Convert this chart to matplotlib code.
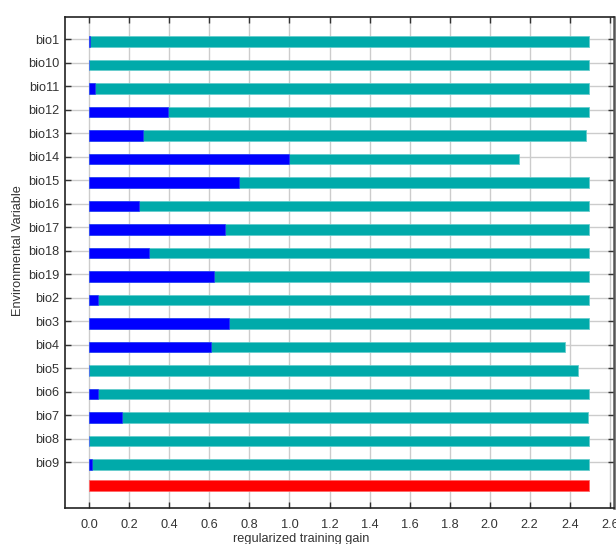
import matplotlib
matplotlib.use("Agg")
import matplotlib.pyplot as plt
import numpy as np

plt.rcParams['font.family'] = ['Liberation Sans', 'DejaVu Sans']

# jackknife of regularized training gain
variables = ['bio1', 'bio10', 'bio11', 'bio12', 'bio13', 'bio14', 'bio15',
             'bio16', 'bio17', 'bio18', 'bio19', 'bio2', 'bio3', 'bio4',
             'bio5', 'bio6', 'bio7', 'bio8', 'bio9']
without_var = [2.498, 2.498, 2.498, 2.498, 2.483, 2.145, 2.498, 2.498, 2.498,
               2.498, 2.498, 2.498, 2.498, 2.378, 2.440, 2.498, 2.493, 2.498,
               2.498]
only_var = [0.004, 0.0, 0.027, 0.395, 0.268, 0.997, 0.748, 0.247, 0.680,
            0.300, 0.622, 0.042, 0.697, 0.607, 0.0, 0.042, 0.163, 0.0, 0.013]
all_vars = 2.498

teal = '#00aaaa'
blue = '#0000ff'
red = '#ff0000'

fig = plt.figure(figsize=(6.16, 5.44), dpi=100)
ax = fig.add_axes([65/616, 1-508.3/544, (614-65)/616, (508.3-16.7)/544])

pos = np.arange(len(variables))
h = 0.46
ax.barh(pos + 0.09, without_var, height=h, color=teal, edgecolor='#66cccc',
        linewidth=0.6, zorder=2)
ax.barh(pos + 0.09, only_var, height=h, color=blue, edgecolor='#3333ff',
        linewidth=0.4, zorder=3)
ax.barh([19.0], [all_vars], height=h, color=red, edgecolor='#ff6666',
        linewidth=0.6, zorder=2)

ax.set_yticks(pos)
ax.set_yticklabels(variables)
ax.set_ylim(19.957, -0.962)
ax.set_xlim(-0.1214, 2.621)
ax.set_xticks(np.arange(0, 2.61, 0.2))
ax.set_xticklabels(['%.1f' % v for v in np.arange(0, 2.61, 0.2)])

ax.grid(True, color='#cccccc', linewidth=1.0, zorder=0)
ax.set_axisbelow(True)

ax.tick_params(axis='both', direction='in', length=4, width=1,
               colors='#333333', labelsize=9.2, labelcolor='#333333')
ax.tick_params(axis='x', top=True, bottom=True, pad=8)
ax.tick_params(axis='y', left=True, right=True, pad=4)

for side in ['left', 'top', 'bottom']:
    ax.spines[side].set_color('#222222')
    ax.spines[side].set_linewidth(1.2)
ax.spines['right'].set_color('#555555')
ax.spines['right'].set_linewidth(1.8)

ax.set_xlabel('regularized training gain', fontsize=9.2, color='#333333')
ax.xaxis.set_label_coords(0.43, -0.051)
ax.set_ylabel('Environmental Variable', fontsize=9.2, color='#333333',
              va='center')
ax.yaxis.set_label_coords(-0.086, 0.525)

fig.savefig('out.png', dpi=100)
